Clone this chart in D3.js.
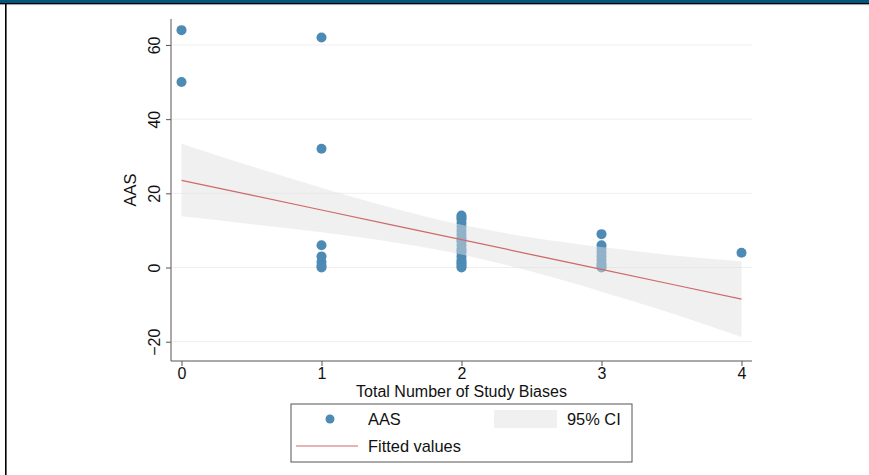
<!DOCTYPE html>
<html><head><meta charset="utf-8">
<script src="https://cdn.jsdelivr.net/npm/d3@7"></script>
<style>body{margin:0;background:#fff}svg{display:block}text{font-family:"Liberation Sans",Arial,sans-serif;fill:#111}</style>
</head><body><svg id="c" width="869" height="475"></svg>
<script>
// Scatter data: number of study biases (x) and AAS (y)
const xVals = [0,0, 1,1,1,1,1,1,1, 2,2,2,2,2,2,2,2,2,2,2,2,2,2,2,2,2,2,2,2, 3,3,3,3,3,3,3,3,3, 4];
const yVals = [64,50, 62,32,6,3,1.5,0.5,0, 14,13.5,13,12,11,10,9,8,7.5,7,6,5,4.5,4,3,2,1.5,1,0.5,0, 9,6,5,4,3,2,1,0.5,0, 4];
// Fitted values and 95% CI
const fitX = [0,0.5,1,1.5,2,2.5,3,3.5,4];
const fitY = [23.5,19.5,15.5,11.5,7.5,3.5,-0.5,-4.5,-8.5];
const ciLo = [13.8,11.7,9.5,6.9,3.5,-1.1,-6.5,-12.3,-18.7];
const ciHi = [33.4,27.3,21.5,16.1,11.5,8.1,5.5,3.3,1.7];
const xTicks = [0,1,2,3,4];
const yTicks = [-20,0,20,40,60];
const legendLabels = ["AAS","95% CI","Fitted values"];
const xTitle = "Total Number of Study Biases";
const yTitle = "AAS";

const svg = d3.select("#c");
const dotColor = "#4d8ab4", lineColor = "#cd6a6a", bandFill = "#dfdfdf", bandOp = 0.47;

// frame decorations
svg.append("rect").attr("x",0).attr("y",0).attr("width",869).attr("height",3).attr("fill","#00567d");
svg.append("rect").attr("x",0).attr("y",3).attr("width",869).attr("height",1.3).attr("fill","#000");
svg.append("rect").attr("x",0).attr("y",4.3).attr("width",869).attr("height",0.8).attr("fill","#a0a0a8");
svg.append("rect").attr("x",5).attr("y",4).attr("width",1.6).attr("height",471).attr("fill","#000");

const x = d3.scaleLinear().domain([-0.075,4.075]).range([171,752]);
const y = d3.scaleLinear().domain([-25.2,67]).range([361,19]);

// gridlines
svg.append("g").selectAll("line").data(yTicks).join("line")
  .attr("x1",172).attr("x2",752).attr("y1",d=>y(d)).attr("y2",d=>y(d))
  .attr("stroke","#eeeeee").attr("stroke-width",1);

// points
svg.append("g").selectAll("circle").data(xVals.map((v,i)=>[v,yVals[i]])).join("circle")
  .attr("cx",d=>x(d[0])).attr("cy",d=>y(d[1])).attr("r",5).attr("fill",dotColor);

// CI band
const ci = fitX.map((v,i)=>({x:v,lo:ciLo[i],hi:ciHi[i]}));
svg.append("path").datum(ci)
  .attr("d",d3.area().x(d=>x(d.x)).y0(d=>y(d.lo)).y1(d=>y(d.hi)).curve(d3.curveMonotoneX))
  .attr("fill",bandFill).attr("fill-opacity",bandOp);

// fitted line
svg.append("path").datum(fitX.map((v,i)=>[v,fitY[i]]))
  .attr("d",d3.line().x(d=>x(d[0])).y(d=>y(d[1])))
  .attr("fill","none").attr("stroke",lineColor).attr("stroke-width",1.2);

// axes
const xa = svg.append("g").attr("transform","translate(0,361)")
  .call(d3.axisBottom(x).tickValues(xTicks).tickSize(5).tickFormat(d3.format("d")));
xa.select(".domain").attr("d","M171,0H752");
const ya = svg.append("g").attr("transform","translate(171,0)")
  .call(d3.axisLeft(y).tickValues(yTicks).tickSize(5).tickFormat(d3.format("d")));
ya.select(".domain").attr("d","M0,19V361");
[xa,ya].forEach(g=>{
  g.selectAll(".domain,line").attr("stroke","#555").attr("stroke-width",1);
  g.selectAll("text").style("font-size","16px").attr("fill","#111");
});
ya.selectAll(".tick text").attr("transform","rotate(-90)").attr("text-anchor","middle")
  .attr("x",0).attr("y",-11).attr("dy","0");
xa.selectAll(".tick text").attr("y",18).attr("dy","0");

// titles
svg.append("text").attr("x",461.5).attr("y",397).attr("text-anchor","middle").style("font-size","16px").text(xTitle);
svg.append("text").attr("transform","translate(136,190) rotate(-90)").attr("text-anchor","middle").style("font-size","16.4px").text(yTitle);

// legend
const lg = svg.append("g");
lg.append("rect").attr("x",291).attr("y",404).attr("width",341).attr("height",58)
  .attr("fill","#fff").attr("stroke","#555").attr("stroke-width",1);
lg.append("circle").attr("cx",330).attr("cy",419).attr("r",4.5).attr("fill",dotColor);
lg.append("text").attr("x",368).attr("y",425).style("font-size","16.4px").text(legendLabels[0]);
lg.append("rect").attr("x",494).attr("y",410).attr("width",63).attr("height",18).attr("fill",bandFill).attr("fill-opacity",bandOp);
lg.append("text").attr("x",567).attr("y",425).style("font-size","16.4px").text(legendLabels[1]);
lg.append("line").attr("x1",296).attr("x2",358).attr("y1",446).attr("y2",446).attr("stroke",lineColor).attr("stroke-width",1.2);
lg.append("text").attr("x",368).attr("y",452).style("font-size","16.4px").text(legendLabels[2]);
</script></body></html>
